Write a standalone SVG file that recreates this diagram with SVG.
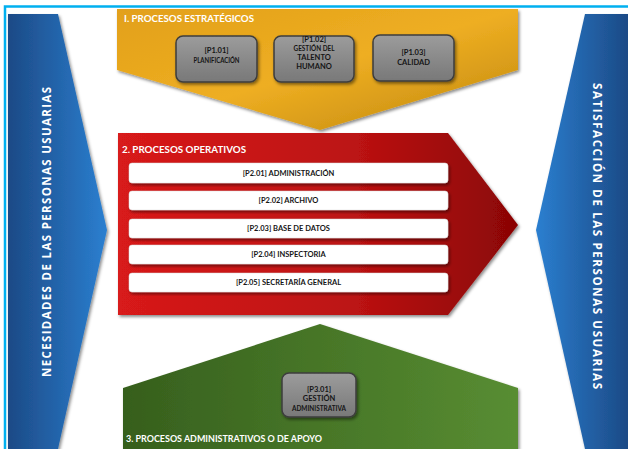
<svg xmlns="http://www.w3.org/2000/svg" width="628" height="449" viewBox="0 0 628 449">
<defs>
<linearGradient id="gBlueL" x1="0" y1="0" x2="1" y2="0">
<stop offset="0" stop-color="#1c4a86"/><stop offset="1" stop-color="#2b7fd0"/>
</linearGradient>
<linearGradient id="gBlueR" x1="0" y1="0" x2="1" y2="0">
<stop offset="0" stop-color="#2b7fd0"/><stop offset="1" stop-color="#1c4a86"/>
</linearGradient>
<linearGradient id="gGold" x1="0" y1="0" x2="1" y2="1">
<stop offset="0" stop-color="#e2a01a"/><stop offset="0.5" stop-color="#eeae22"/><stop offset="1" stop-color="#bf870f"/>
</linearGradient>
<linearGradient id="gRed" x1="0" y1="0" x2="1" y2="0">
<stop offset="0" stop-color="#d81a1a"/><stop offset="0.6" stop-color="#bb1212"/><stop offset="1" stop-color="#8a0505"/>
</linearGradient>
<linearGradient id="gGreen" x1="0" y1="0" x2="1" y2="0">
<stop offset="0" stop-color="#365f1d"/><stop offset="1" stop-color="#588d32"/>
</linearGradient>
<linearGradient id="gGray" x1="0" y1="0" x2="0" y2="1">
<stop offset="0" stop-color="#9c9c9c"/><stop offset="1" stop-color="#787878"/>
</linearGradient>
<filter id="sh" x="-10%" y="-10%" width="125%" height="130%">
<feDropShadow dx="1.5" dy="2" stdDeviation="1.5" flood-color="#000" flood-opacity="0.45"/>
</filter>
</defs>
<style>
.lbl{font-family:Lato,"Liberation Sans",sans-serif;font-weight:bold;fill:#fff}
.side{font-family:"Open Sans","Liberation Sans",sans-serif;font-weight:bold;fill:#fff;font-size:11.5px}
.bx{fill:url(#gGray);stroke:#3d3d3d;stroke-width:1.5}
.bt{font-family:Lato,"Liberation Sans",sans-serif;font-weight:bold;fill:#151515;font-size:7.5px;text-anchor:middle}
.bar{fill:#fff;stroke:#d8d8d8;stroke-width:0.5}
</style>
<g id="frame">
<path d="M5 449 V6.5 H628" fill="none" stroke="#00b0f0" stroke-width="2.5"/>
</g>
<g id="necesidades">
<path d="M8 14 H58 L107 230 L58 449 H8 Z" fill="url(#gBlueL)" filter="url(#sh)"/>
<text class="side" transform="translate(51 232) rotate(-90)" text-anchor="middle" textLength="290" lengthAdjust="spacing">NECESIDADES DE LAS PERSONAS USUARIAS</text>
</g>
<g id="satisfaccion">
<path d="M585 14 H628 V449 H585 L536 230 Z" fill="url(#gBlueR)" filter="url(#sh)"/>
<text class="side" transform="translate(593 236) rotate(90)" text-anchor="middle" textLength="306" lengthAdjust="spacing">SATISFACCIÓN DE LAS PERSONAS USUARIAS</text>
</g>
<g id="estrategicos">
<path d="M117 9 H518 V70 L320 130 L117 70 Z" fill="url(#gGold)" filter="url(#sh)"/>
<text class="lbl" x="124" y="22" font-size="9.5" textLength="130" lengthAdjust="spacingAndGlyphs">I. PROCESOS ESTRATÉGICOS</text>
</g>
<g id="p101">
<rect class="bx" x="176" y="36" width="81" height="46" rx="7" filter="url(#sh)"/>
<text class="bt" x="216.5" y="53">[P1.01]</text>
<text class="bt" x="216.5" y="62.5" textLength="46" lengthAdjust="spacingAndGlyphs">PLANIFICACIÓN</text>
</g>
<g id="p102">
<rect class="bx" x="274" y="36" width="80" height="46" rx="7" filter="url(#sh)"/>
<text class="bt" x="314" y="41.5">[P1.02]</text>
<text class="bt" x="314" y="51" textLength="41" lengthAdjust="spacingAndGlyphs">GESTIÓN DEL</text>
<text class="bt" x="314" y="60">TALENTO</text>
<text class="bt" x="314" y="69">HUMANO</text>
</g>
<g id="p103">
<rect class="bx" x="373" y="35" width="81" height="46" rx="7" filter="url(#sh)"/>
<text class="bt" x="413.5" y="55">[P1.03]</text>
<text class="bt" x="413.5" y="64.5">CALIDAD</text>
</g>
<g id="operativos">
<path d="M118 133 H448 L518 225 L448 315 H118 Z" fill="url(#gRed)" filter="url(#sh)"/>
<text class="lbl" x="122" y="153" font-size="9.5" textLength="124" lengthAdjust="spacingAndGlyphs">2. PROCESOS OPERATIVOS</text>
</g>
<g id="p201">
<rect class="bar" x="129" y="163" width="319" height="20" rx="3" filter="url(#sh)"/>
<text class="bt" x="288.5" y="176">[P2.01] ADMINISTRACIÓN</text>
</g>
<g id="p202">
<rect class="bar" x="129" y="191" width="319" height="19" rx="3" filter="url(#sh)"/>
<text class="bt" x="288.5" y="203">[P2.02] ARCHIVO</text>
</g>
<g id="p203">
<rect class="bar" x="129" y="219" width="319" height="19" rx="3" filter="url(#sh)"/>
<text class="bt" x="288.5" y="231">[P2.03] BASE DE DATOS</text>
</g>
<g id="p204">
<rect class="bar" x="129" y="245" width="319" height="19" rx="3" filter="url(#sh)"/>
<text class="bt" x="288.5" y="257">[P2.04] INSPECTORIA</text>
</g>
<g id="p205">
<rect class="bar" x="129" y="273" width="319" height="19" rx="3" filter="url(#sh)"/>
<text class="bt" x="288.5" y="285">[P2.05] SECRETARÍA GENERAL</text>
</g>
<g id="apoyo">
<path d="M123 388 L320 324 L518 388 V449 H123 Z" fill="url(#gGreen)" filter="url(#sh)"/>
<text class="lbl" x="126" y="442" font-size="9.5" textLength="196" lengthAdjust="spacingAndGlyphs">3. PROCESOS ADMINISTRATIVOS O DE APOYO</text>
</g>
<g id="p301">
<rect class="bx" x="282" y="373" width="74" height="44" rx="7" filter="url(#sh)"/>
<text class="bt" x="319" y="392">[P3.01]</text>
<text class="bt" x="319" y="401">GESTIÓN</text>
<text class="bt" x="319" y="410.5" textLength="54" lengthAdjust="spacingAndGlyphs">ADMINISTRATIVA</text>
</g>
<g id="connectors"></g>
</svg>
